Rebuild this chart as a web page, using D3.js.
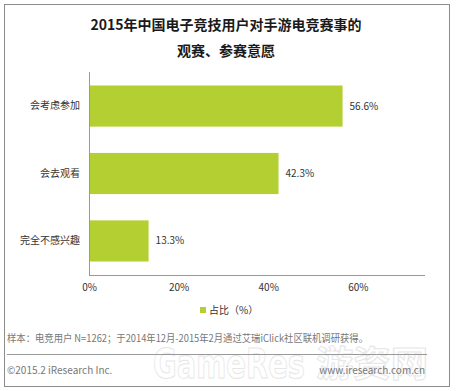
<!DOCTYPE html>
<html><head><meta charset="utf-8">
<script src="https://cdn.jsdelivr.net/npm/d3@7/dist/d3.min.js"></script>
<style>body{margin:0;background:#fff}svg{display:block}</style>
</head><body>
<script>
const categories = ["会考虑参加", "会去观看", "完全不感兴趣"];
const values = [56.6, 42.3, 13.3];
const tickValues = [0, 20, 40, 60];
const seriesName = "占比（%）";
const titleLines = ["2015年中国电子竞技用户对手游电竞赛事的", "观赛、参赛意愿"];
const note = "样本：电竞用户 N=1262；于2014年12月-2015年2月通过艾瑞iClick社区联机调研获得。";
const footerLeft = "©2015.2 iResearch Inc.";
const footerRight = "www.iresearch.com.cn";
const watermark = ["GameRes", "游资网"];

const W = 456, H = 391;
const font = "'Noto Sans CJK SC', 'Microsoft YaHei', sans-serif";
const svg = d3.select("body").append("svg").attr("width", W).attr("height", H)
  .style("font-family", font);

svg.append("rect").attr("x", 4.5).attr("y", 4.5).attr("width", 445).attr("height", 382)
  .attr("fill", "#fff").attr("stroke", "#8c8c8c").attr("stroke-width", 1);

svg.selectAll("text.title").data(titleLines).enter().append("text")
  .attr("x", 226).attr("y", (d, i) => 30 + i * 26)
  .attr("text-anchor", "middle").attr("font-size", 14).attr("font-weight", "bold")
  .attr("fill", "#1a1a1a").text(d => d);

const x0 = 89, x1 = 425, yTop = 72, yBot = 275;
const x = d3.scaleLinear().domain([0, 75]).range([x0, x1]);
const y = d3.scaleBand().domain(categories).range([yTop, yBot]).paddingInner(0.39).paddingOuter(0.2);

svg.selectAll("rect.bar").data(values).enter().append("rect")
  .attr("x", x(0)).attr("y", (d, i) => y(categories[i]))
  .attr("width", d => x(d) - x(0)).attr("height", y.bandwidth())
  .attr("fill", "#b3cf32");

svg.selectAll("text.val").data(values).enter().append("text")
  .attr("x", d => x(d) + 7).attr("y", (d, i) => y(categories[i]) + y.bandwidth() / 2)
  .attr("dy", "0.35em").attr("font-size", 10).attr("fill", "#333")
  .text(d => d.toFixed(1) + "%");

// y axis
const yAxis = svg.append("g").attr("transform", `translate(${x0},0)`)
  .call(d3.axisLeft(y).tickSize(0).tickPadding(9));
yAxis.select(".domain").attr("stroke", "#999").attr("d", `M0.5,${yTop}V${yBot}`);
yAxis.selectAll("text").attr("font-size", 10).attr("fill", "#333").style("font-family", font);

// x axis
const xAxis = svg.append("g").attr("transform", `translate(0,${yBot})`)
  .call(d3.axisBottom(x).tickValues(tickValues).tickSize(0).tickPadding(9).tickFormat(d => d + "%"));
xAxis.select(".domain").attr("stroke", "#999").attr("d", `M${x0},0.5H${x1}`);
xAxis.selectAll("text").attr("font-size", 10).attr("fill", "#333").style("font-family", font);

// legend
svg.append("rect").attr("x", 200).attr("y", 307).attr("width", 6).attr("height", 6).attr("fill", "#b3cf32");
svg.append("text").attr("x", 209).attr("y", 314).attr("font-size", 10).attr("fill", "#333").text(seriesName);

// watermark (drawn underneath the footer texts)
const wm = svg.append("g");
wm.append("text").attr("x", 153).attr("y", 378).attr("font-size", 40).attr("font-weight", "bold")
  .attr("font-family", "'DejaVu Sans', sans-serif")
  .attr("textLength", 152).attr("lengthAdjust", "spacingAndGlyphs")
  .attr("fill", "#fff").attr("stroke", "#e6e6e6").attr("stroke-width", 1).text(watermark[0]);
wm.append("text").attr("x", 316).attr("y", 377).attr("font-size", 36).attr("font-weight", "bold")
  .attr("textLength", 112).attr("lengthAdjust", "spacingAndGlyphs")
  .attr("fill", "#fff").attr("stroke", "#e6e6e6").attr("stroke-width", 1).text(watermark[1]);

// note
svg.append("text").attr("x", 7).attr("y", 342).attr("font-size", 10).attr("fill", "#777")
  .attr("textLength", 361).attr("lengthAdjust", "spacingAndGlyphs").text(note);
svg.append("line").attr("x1", 7).attr("x2", 427).attr("y1", 354.5).attr("y2", 354.5).attr("stroke", "#999");
svg.append("text").attr("x", 7).attr("y", 374).attr("font-size", 10).attr("fill", "#777").text(footerLeft);
svg.append("text").attr("x", 425).attr("y", 374).attr("font-size", 10).attr("text-anchor", "end").attr("fill", "#777").text(footerRight);
</script>
</body></html>
